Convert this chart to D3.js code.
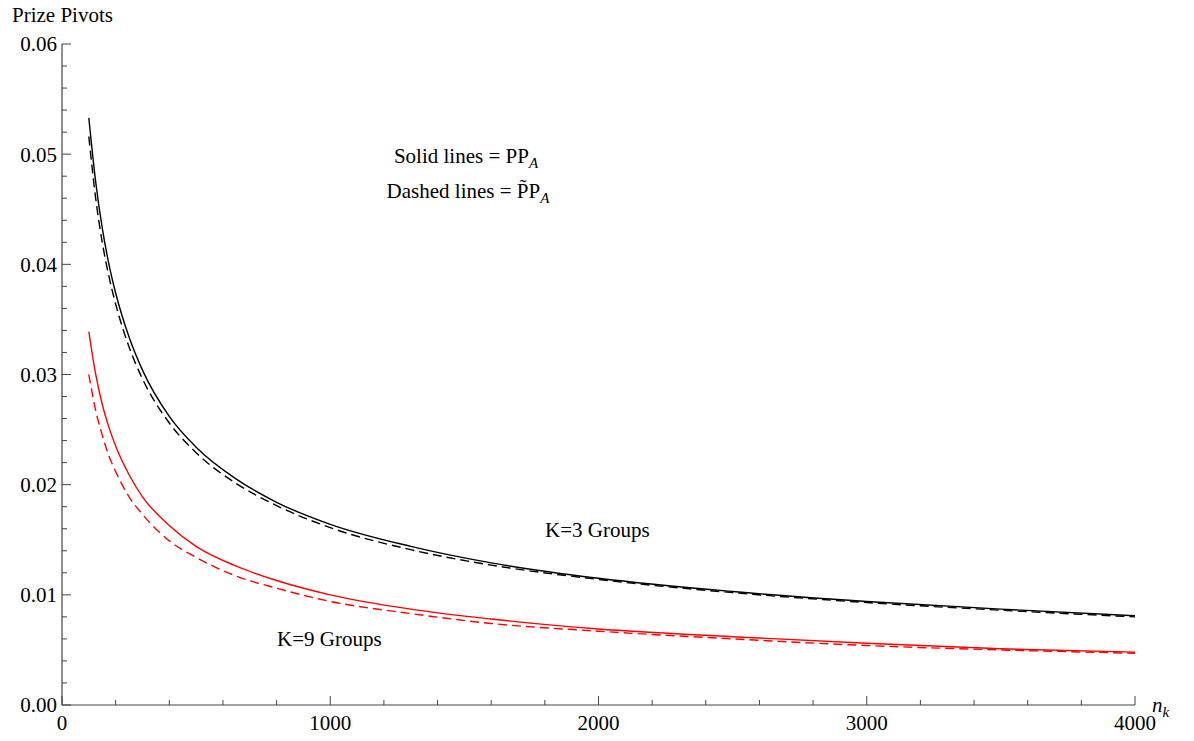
<!DOCTYPE html>
<html>
<head>
<meta charset="utf-8">
<script src="https://cdn.jsdelivr.net/npm/d3@7"></script>
<style>
  body { margin: 0; background: #fff; }
</style>
</head>
<body>
<svg id="pivotViz" width="1194" height="741"></svg>
<script>
const nValues = [100, 125, 150, 175, 200, 250, 300, 400, 500, 650, 800, 1000, 1300, 1600, 2000, 2500, 3000, 3500, 4000];

// K=3 groups
const k3Solid = [0.0533, 0.0476, 0.0433, 0.0400, 0.0374, 0.0334, 0.0304, 0.0262, 0.0234, 0.0205, 0.0184, 0.0164, 0.0144, 0.0129, 0.0115, 0.0103, 0.0094, 0.0087, 0.0081];
const k3Dashed = [0.0516, 0.0461, 0.0420, 0.0389, 0.0364, 0.0325, 0.0296, 0.0256, 0.0229, 0.0201, 0.0181, 0.0161, 0.0141, 0.0127, 0.0114, 0.0102, 0.0093, 0.0086, 0.0080];

// K=9 groups
const k9Solid = [0.0339, 0.0301, 0.0273, 0.0252, 0.0235, 0.0209, 0.0189, 0.0163, 0.0144, 0.0126, 0.0113, 0.0100, 0.0087, 0.0078, 0.0069, 0.0062, 0.0056, 0.0051, 0.0048];
const k9Dashed = [0.0300, 0.0268, 0.0245, 0.0226, 0.0212, 0.0189, 0.0173, 0.0149, 0.0134, 0.0117, 0.0106, 0.0094, 0.0083, 0.0074, 0.0067, 0.0060, 0.0054, 0.0050, 0.0047];

const xTickValues = [0, 1000, 2000, 3000, 4000];
const yTickValues = [0, 0.01, 0.02, 0.03, 0.04, 0.05, 0.06];

const svg = d3
  .select("#pivotViz")
  .attr("font-family", "'Liberation Serif', 'Times New Roman', Times, 'DejaVu Serif', serif");

const x = d3.scaleLinear().domain([0, 4000]).range([62, 1135]);
const y = d3.scaleLinear().domain([0, 0.06]).range([705, 44]);

const axisColor = "#444";
const fontSize = 21;

// y axis line + ticks (inward, Mathematica style)
svg
  .append("line")
  .attr("x1", x(0))
  .attr("x2", x(0))
  .attr("y1", y(0))
  .attr("y2", y(0.06))
  .attr("stroke", axisColor)
  .attr("stroke-width", 1.2);

const yMinor = d3.range(0, 30.5, 1).map((i) => i * 0.002);
svg
  .selectAll(".yTick")
  .data(yMinor)
  .join("line")
  .attr("class", "yTick")
  .attr("x1", x(0))
  .attr("x2", (d, i) => x(0) + (i % 5 === 0 ? 9 : 5))
  .attr("y1", (d) => y(d))
  .attr("y2", (d) => y(d))
  .attr("stroke", axisColor)
  .attr("stroke-width", 1);

svg
  .selectAll(".yLabel")
  .data(yTickValues)
  .join("text")
  .attr("class", "yLabel")
  .attr("x", x(0) - 5)
  .attr("y", (d) => y(d))
  .attr("dy", "0.35em")
  .attr("text-anchor", "end")
  .attr("font-size", fontSize)
  .text((d) => d3.format(".2f")(d));

// x axis line + ticks
svg
  .append("line")
  .attr("x1", x(0))
  .attr("x2", x(4000))
  .attr("y1", y(0))
  .attr("y2", y(0))
  .attr("stroke", axisColor)
  .attr("stroke-width", 1.2);

const xMinor = d3.range(0, 4001, 200);
svg
  .selectAll(".xTick")
  .data(xMinor)
  .join("line")
  .attr("class", "xTick")
  .attr("x1", (d) => x(d))
  .attr("x2", (d) => x(d))
  .attr("y1", y(0))
  .attr("y2", (d) => y(0) - (d % 1000 === 0 ? 9 : 5))
  .attr("stroke", axisColor)
  .attr("stroke-width", 1);

svg
  .selectAll(".xLabel")
  .data(xTickValues)
  .join("text")
  .attr("class", "xLabel")
  .attr("x", (d) => x(d))
  .attr("y", y(0) + 25)
  .attr("text-anchor", "middle")
  .attr("font-size", fontSize)
  .text((d) => d);

// axis titles
svg
  .append("text")
  .attr("x", 12)
  .attr("y", 22)
  .attr("font-size", fontSize)
  .text("Prize Pivots");

const nkLabel = svg
  .append("text")
  .attr("x", 1152)
  .attr("y", 712)
  .attr("font-size", fontSize)
  .attr("font-style", "italic");
nkLabel.append("tspan").text("n");
nkLabel.append("tspan").attr("font-size", 15).attr("dy", 5).text("k");

// curves
const line = d3
  .line()
  .x((d, i) => x(nValues[i]))
  .y((d) => y(d))
  .curve(d3.curveMonotoneX);

const series = [
  { values: k3Solid, color: "#000", dash: null },
  { values: k3Dashed, color: "#000", dash: "9,5" },
  { values: k9Solid, color: "#ff0000", dash: null },
  { values: k9Dashed, color: "#ff0000", dash: "9,5" },
];

series.forEach((s) => {
  svg
    .append("path")
    .datum(s.values)
    .attr("d", line)
    .attr("fill", "none")
    .attr("stroke", s.color)
    .attr("stroke-width", 1.4)
    .attr("stroke-dasharray", s.dash);
});

// annotations
const solidText = svg
  .append("text")
  .attr("x", 466)
  .attr("y", 163)
  .attr("text-anchor", "middle")
  .attr("font-size", fontSize);
solidText.append("tspan").text("Solid lines = PP");
solidText.append("tspan").attr("font-style", "italic").attr("font-size", 15).attr("dy", 5).text("A");

const dashedText = svg
  .append("text")
  .attr("x", 468)
  .attr("y", 198)
  .attr("text-anchor", "middle")
  .attr("font-size", fontSize);
dashedText.append("tspan").text("Dashed lines = P\u0303P");
dashedText.append("tspan").attr("font-style", "italic").attr("font-size", 15).attr("dy", 5).text("A");

svg
  .append("text")
  .attr("x", 545)
  .attr("y", 537)
  .attr("font-size", fontSize)
  .text("K=3 Groups");

svg
  .append("text")
  .attr("x", 277)
  .attr("y", 646)
  .attr("font-size", fontSize)
  .text("K=9 Groups");
</script>
</body>
</html>
